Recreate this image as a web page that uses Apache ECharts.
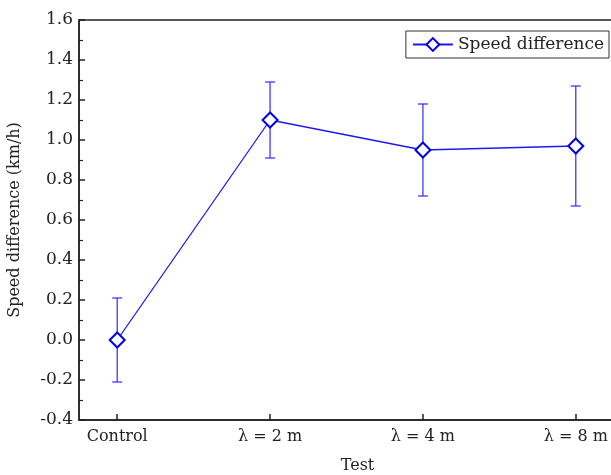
<!DOCTYPE html>
<html><head><meta charset="utf-8">
<script src="https://cdn.jsdelivr.net/npm/echarts@6/dist/echarts.min.js"></script>
<style>html,body{margin:0;padding:0;background:#fff}#c{width:611px;height:475px}</style>
</head><body><div id="c"></div>
<script>
var categories = ['Control', 'λ = 2 m', 'λ = 4 m', 'λ = 8 m'];
var speedDiff = [0.0, 1.10, 0.95, 0.97];
var errLow = [-0.21, 0.91, 0.72, 0.67];
var errHigh = [0.21, 1.29, 1.18, 1.27];
var yTicks = [-0.4, -0.2, 0.0, 0.2, 0.4, 0.6, 0.8, 1.0, 1.2, 1.4, 1.6];

var font = 'DejaVu Serif';
var chart = echarts.init(document.getElementById('c'));
var lineData = speedDiff.map(function (v, i) { return [i, v]; });
var errData = speedDiff.map(function (v, i) { return [i, errLow[i], errHigh[i]]; });
chart.setOption({
  animation: false,
  textStyle: { fontFamily: font },
  grid: { left: 79, right: -3, top: 20, bottom: 55, show: true, borderColor: '#222', borderWidth: 1.5,
    containLabel: false, outerBoundsMode: 'none' },
  legend: {
    data: ['Speed difference'], right: 2, top: 31,
    orient: 'horizontal', itemWidth: 40, itemHeight: 16, itemGap: 6,
    padding: [5, 5, 5, 6],
    borderColor: '#333', borderWidth: 1, borderRadius: 0,
    textStyle: { fontFamily: font, fontSize: 17, color: '#222' }
  },
  xAxis: {
    type: 'value', min: -0.25, max: 3.25,
    name: 'Test', nameLocation: 'middle', nameGap: 38,
    nameTextStyle: { fontFamily: font, fontSize: 16, color: '#222', padding: [0, 0, 0, 22] },
    axisLine: { show: true, onZero: false, lineStyle: { color: '#222', width: 1.5 } },
    axisTick: { show: true, inside: true, length: 6, customValues: [0, 1, 2, 3], lineStyle: { color: '#222', width: 1.5 } },
    axisLabel: { customValues: [0, 1, 2, 3], fontFamily: font, fontSize: 16, color: '#222', margin: 9,
      formatter: function (v) { return categories[Math.round(v)]; } },
    splitLine: { show: false }
  },
  yAxis: {
    type: 'value', min: -0.4, max: 1.6, interval: 0.2,
    name: 'Speed difference (km/h)', nameLocation: 'middle', nameGap: 56,
    nameTextStyle: { fontFamily: font, fontSize: 16, color: '#222' },
    axisLine: { show: true, onZero: false, lineStyle: { color: '#222', width: 1.5 } },
    axisTick: { show: true, inside: true, length: 6, lineStyle: { color: '#222', width: 1.5 } },
    minorTick: { show: true, splitNumber: 2, length: 4, lineStyle: { color: '#222', width: 1.2 } },
    axisLabel: { fontFamily: font, fontSize: 17, color: '#222', margin: 6,
      formatter: function (v) { return v.toFixed(1); } },
    splitLine: { show: false }
  },
  series: [
    {
      type: 'custom', name: 'err', data: errData, z: 2,
      renderItem: function (params, api) {
        var x = api.value(0);
        var lo = api.coord([x, api.value(1)]);
        var hi = api.coord([x, api.value(2)]);
        var w = 5;
        var st = { stroke: '#3a3aff', lineWidth: 1.3 };
        return { type: 'group', children: [
          { type: 'line', shape: { x1: lo[0], y1: lo[1], x2: hi[0], y2: hi[1] }, style: st },
          { type: 'line', shape: { x1: lo[0] - w, y1: lo[1], x2: lo[0] + w, y2: lo[1] }, style: st },
          { type: 'line', shape: { x1: hi[0] - w, y1: hi[1], x2: hi[0] + w, y2: hi[1] }, style: st }
        ] };
      }
    },
    {
      type: 'line', name: 'Speed difference', data: lineData, z: 3,
      symbol: 'diamond', symbolSize: 15, showSymbol: true,
      lineStyle: { color: '#1a1aee', width: 1.3 },
      itemStyle: { color: '#fff', borderColor: '#0000ee', borderWidth: 2 }
    }
  ]
});
</script></body></html>
